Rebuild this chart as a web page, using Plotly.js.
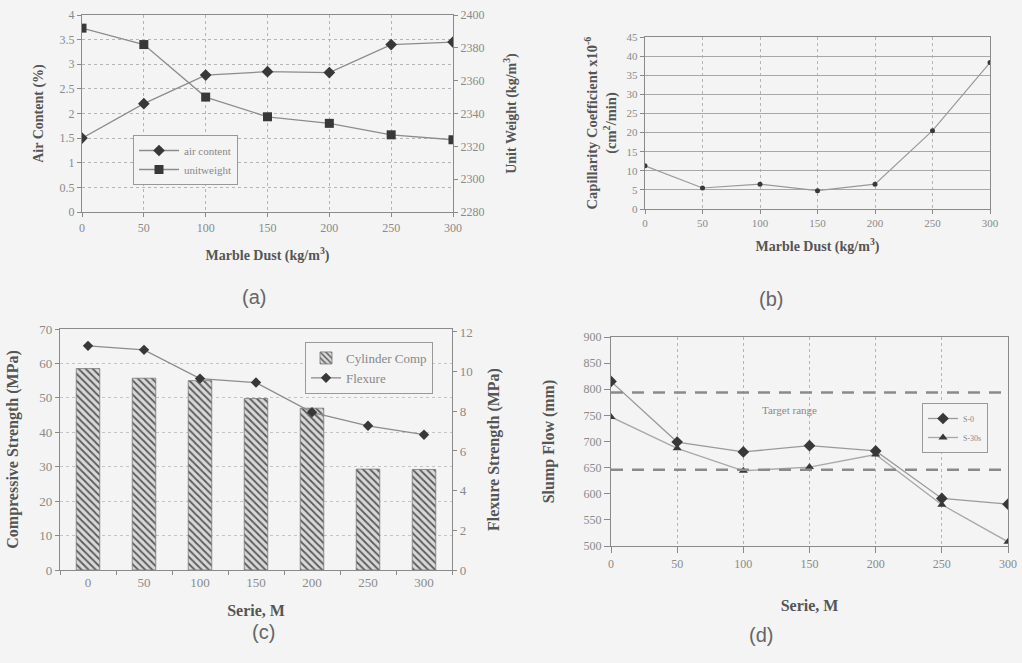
<!DOCTYPE html>
<html>
<head>
<meta charset="utf-8">
<script src="https://cdn.plot.ly/plotly-3.0.1.min.js"></script>
<style>
  html, body { margin: 0; padding: 0; background: #f4f4f4; }
  #chart { width: 1022px; height: 663px; }
</style>
</head>
<body>
<div id="chart"></div>
<script>
// Marble dust dosage (kg/m3) shared by panels (a), (b), (d)
const marbleDust = [0, 50, 100, 150, 200, 250, 300];

// (a) air content and unit weight
const airContent = [1.5, 2.2, 2.78, 2.85, 2.83, 3.4, 3.45];
const unitWeight = [2392, 2382, 2350, 2338, 2334, 2327, 2324];

// (b) capillarity coefficient
const capillarity = [11.3, 5.5, 6.5, 4.8, 6.5, 20.5, 38.3];

// (c) compressive and flexural strength by series
const series = ['0', '50', '100', '150', '200', '250', '300'];
const cylinderComp = [58.5, 55.7, 55.0, 49.8, 47.0, 29.3, 29.2];
const flexure = [11.3, 11.1, 9.65, 9.45, 7.95, 7.27, 6.82];

// (d) slump flow
const slumpS0 = [815, 699, 680, 692, 682, 591, 580];
const slumpS30 = [747, 687, 644, 651, 675, 579, 508];
const targetRange = [646, 794];

const W = 1022, H = 663;
const fx = p => p / W;
const fy = p => 1 - p / H;

const SERIF = 'Liberation Serif, Times New Roman, serif';
const LABEL_FONT = 'Liberation Sans Narrow, Liberation Sans, sans-serif';
const tickFont = { family: SERIF, size: 12, color: '#8a8a8a' };
const lineCol = '#8c8c8c';
const markCol = '#383838';
const axisCol = '#8a8a8a';

function baseAxis(extra) {
  return Object.assign({
    showline: true, linecolor: axisCol, linewidth: 1.2,
    ticks: 'outside', ticklen: 4, tickcolor: axisCol,
    tickfont: tickFont, zeroline: false, fixedrange: true,
    automargin: false
  }, extra);
}
function axTitle(text, size, standoff) {
  return { text: text, font: { family: SERIF, size: size, color: '#555', weight: 'bold' }, standoff: standoff };
}
const sized = s => Object.assign({}, tickFont, { size: s });

const traces = [
  // (a)
  { x: marbleDust, y: airContent, name: 'air content', type: 'scatter', mode: 'lines+markers',
    xaxis: 'x', yaxis: 'y', legend: 'legend',
    line: { color: lineCol, width: 1.3 }, marker: { symbol: 'diamond', size: 9, color: markCol } },
  { x: marbleDust, y: unitWeight, name: 'unitweight', type: 'scatter', mode: 'lines+markers',
    xaxis: 'x', yaxis: 'y2', legend: 'legend',
    line: { color: lineCol, width: 1.3 }, marker: { symbol: 'square', size: 9, color: markCol } },
  // (b)
  { x: marbleDust, y: capillarity, name: 'capillarity', type: 'scatter', mode: 'lines+markers',
    xaxis: 'x2', yaxis: 'y3', showlegend: false,
    line: { color: '#999', width: 1.2 }, marker: { symbol: 'circle', size: 5, color: markCol } },
  // (c)
  { x: series, y: cylinderComp, name: 'Cylinder Comp', type: 'bar',
    xaxis: 'x3', yaxis: 'y4', legend: 'legend2', width: 0.42,
    marker: { color: '#d4d4d4', line: { color: '#777', width: 0.8 },
      pattern: { shape: '\\', fgcolor: '#5a5a5a', bgcolor: '#d8d8d8', size: 5, solidity: 0.35 } } },
  { x: series, y: flexure, name: 'Flexure', type: 'scatter', mode: 'lines+markers',
    xaxis: 'x3', yaxis: 'y5', legend: 'legend2',
    line: { color: lineCol, width: 1.3 }, marker: { symbol: 'diamond', size: 8, color: markCol } },
  // (d)
  { x: marbleDust, y: slumpS0, name: 'S-0', type: 'scatter', mode: 'lines+markers',
    xaxis: 'x4', yaxis: 'y6', legend: 'legend3',
    line: { color: '#9a9a9a', width: 1.3 }, marker: { symbol: 'diamond', size: 9, color: markCol } },
  { x: marbleDust, y: slumpS30, name: 'S-30s', type: 'scatter', mode: 'lines+markers',
    xaxis: 'x4', yaxis: 'y6', legend: 'legend3',
    line: { color: '#a8a8a8', width: 1.3 }, marker: { symbol: 'triangle-up', size: 8, color: markCol } }
];

const legendBox = { bgcolor: '#f4f4f4', bordercolor: '#999', borderwidth: 1,
  xanchor: 'left', yanchor: 'top', itemclick: false, itemdoubleclick: false };

const layout = {
  width: W, height: H,
  margin: { l: 0, r: 0, t: 0, b: 0 },
  paper_bgcolor: '#f4f4f4', plot_bgcolor: '#f4f4f4',
  font: { family: SERIF, color: '#555' },
  showlegend: true,

  // (a)
  xaxis: baseAxis({ domain: [fx(82), fx(453)], anchor: 'y', range: [0, 300], dtick: 50,
    mirror: true, showgrid: true, gridcolor: '#b5b5b5', griddash: 'dot',
    title: axTitle('Marble Dust (kg/m<sup>3</sup>)', 14, 16) }),
  yaxis: baseAxis({ domain: [fy(212), fy(15)], anchor: 'x', range: [0, 4], dtick: 0.5,
    mirror: true, showgrid: true, gridcolor: '#b5b5b5', griddash: 'dot',
    title: axTitle('Air Content (%)', 14, 12) }),
  yaxis2: baseAxis({ domain: [fy(212), fy(15)], anchor: 'x', overlaying: 'y', side: 'right',
    range: [2280, 2400], dtick: 20, showgrid: false,
    title: axTitle('Unit Weight (kg/m<sup>3</sup>)', 14, 22) }),

  // (b)
  xaxis2: baseAxis({ domain: [fx(645), fx(990)], anchor: 'y3', range: [0, 300], dtick: 50,
    mirror: true, showgrid: true, gridcolor: '#b5b5b5', griddash: 'dot',
    tickfont: sized(11),
    title: axTitle('Marble Dust (kg/m<sup>3</sup>)', 14, 12) }),
  yaxis3: baseAxis({ domain: [fy(209), fy(37)], anchor: 'x2', range: [0, 45], dtick: 5,
    mirror: true, showgrid: true, gridcolor: '#a8a8a8',
    tickfont: sized(11),
    title: axTitle('Capillarity Coefficient x10<sup>-6</sup><br>(cm<sup>2</sup>/min)', 14.5, 6) }),

  // (c)
  xaxis3: baseAxis({ domain: [fx(60), fx(452)], anchor: 'y4', type: 'category',
    tickson: 'boundaries', mirror: true, showgrid: false,
    tickfont: sized(13),
    title: axTitle('Serie, M', 16, 16) }),
  yaxis4: baseAxis({ domain: [fy(570), fy(329)], anchor: 'x3', range: [0, 70], dtick: 10,
    mirror: false, showgrid: true, gridcolor: '#c4c4c4', griddash: 'dot',
    tickfont: sized(13),
    title: axTitle('Compressive Strength (MPa)', 16, 16) }),
  yaxis5: baseAxis({ domain: [fy(570), fy(329)], anchor: 'x3', overlaying: 'y4', side: 'right',
    range: [0, 12.15], dtick: 2, showgrid: false,
    tickfont: sized(13),
    title: axTitle('Flexure Strength (MPa)', 16, 16) }),

  // (d)
  xaxis4: baseAxis({ domain: [fx(611), fx(1008)], anchor: 'y6', range: [0, 300], dtick: 50,
    mirror: true, showgrid: true, gridcolor: '#b5b5b5', griddash: 'dot',
    tickfont: sized(12), ticklen: 6,
    title: axTitle('Serie, M', 16, 30) }),
  yaxis6: baseAxis({ domain: [fy(546), fy(337)], anchor: 'x4', range: [500, 900], dtick: 50,
    mirror: true, showgrid: false, ticklen: 6,
    title: axTitle('Slump Flow (mm)', 16, 24) }),

  legend: Object.assign({}, legendBox, { x: fx(133), y: fy(135),
    font: { family: SERIF, size: 11, color: '#888' }, itemwidth: 40 }),
  legend2: Object.assign({}, legendBox, { x: fx(305), y: fy(342),
    font: { family: SERIF, size: 13, color: '#888' } }),
  legend3: Object.assign({}, legendBox, { x: fx(922), y: fy(403),
    font: { family: SERIF, size: 8, color: '#888' } }),

  shapes: targetRange.map(v => ({
    type: 'line', xref: 'x4', yref: 'y6', x0: 0, x1: 300, y0: v, y1: v,
    line: { color: '#8a8a8a', width: 2.5, dash: '12px,9px' }
  })),

  annotations: [
    { xref: 'x4', yref: 'y6', x: 135, y: 760, text: 'Target range', showarrow: false,
      font: { family: SERIF, size: 11, color: '#888' } },
    { xref: 'paper', yref: 'paper', x: fx(240), y: fy(297), text: '(a)', showarrow: false,
      font: { family: LABEL_FONT, size: 20, color: '#666' } },
    { xref: 'paper', yref: 'paper', x: fx(785), y: fy(299), text: '(b)', showarrow: false,
      font: { family: LABEL_FONT, size: 20, color: '#666' } },
    { xref: 'paper', yref: 'paper', x: fx(250), y: fy(645), text: '(c)', showarrow: false,
      font: { family: LABEL_FONT, size: 20, color: '#666' } },
    { xref: 'paper', yref: 'paper', x: fx(775), y: fy(648), text: '(d)', showarrow: false,
      font: { family: LABEL_FONT, size: 20, color: '#666' } }
  ]
};

Plotly.newPlot('chart', traces, layout, { displayModeBar: false, staticPlot: true });
</script>
</body>
</html>
